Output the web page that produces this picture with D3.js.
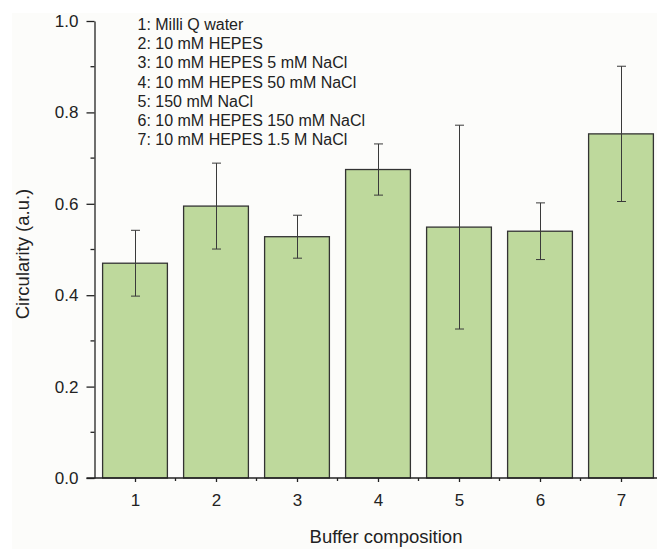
<!DOCTYPE html>
<html>
<head>
<meta charset="utf-8">
<script src="https://cdn.jsdelivr.net/npm/d3@7"></script>
<style>
  body { margin: 0; background: #fff; }
  svg text { font-family: "Liberation Sans", Arial, sans-serif; fill: #222; }
</style>
</head>
<body>
<div id="chart"></div>
<script>
const categories = [1, 2, 3, 4, 5, 6, 7];
const circularity = [0.470, 0.595, 0.528, 0.675, 0.549, 0.540, 0.753];
const errors = [0.072, 0.094, 0.047, 0.056, 0.223, 0.062, 0.148];
const yTicks = [0.0, 0.2, 0.4, 0.6, 0.8, 1.0];
const legendLines = [
  "1: Milli Q water",
  "2: 10 mM HEPES",
  "3: 10 mM HEPES 5 mM NaCl",
  "4: 10 mM HEPES 50 mM NaCl",
  "5: 150 mM NaCl",
  "6: 10 mM HEPES 150 mM NaCl",
  "7: 10 mM HEPES 1.5 M NaCl"
];

const width = 657, height = 549;
const margin = ({ top: 21, right: -4.5, bottom: 71, left: 94.5 });

const svg = d3.select("#chart")
  .append("svg")
  .attr("width", width)
  .attr("height", height);

// off-white paper of the original figure
svg.append("rect")
  .attr("x", 12).attr("y", 13)
  .attr("width", width - 12).attr("height", height - 13)
  .attr("fill", "#fcfcfa");

const x = d3.scaleLinear()
  .domain([0.5, 7.5])
  .range([margin.left, width - margin.right]);

const y = d3.scaleLinear()
  .domain([0, 1])
  .range([height - margin.bottom, margin.top]);

const barW = (x(2) - x(1)) * 0.8;

// bars
svg.append("g")
  .selectAll("rect")
  .data(categories)
  .join("rect")
  .attr("x", (d) => x(d) - barW / 2)
  .attr("y", (d, i) => y(circularity[i]))
  .attr("width", barW)
  .attr("height", (d, i) => y(0) - y(circularity[i]))
  .attr("fill", "#bed99c")
  .attr("stroke", "#333")
  .attr("stroke-width", 1.3);

// error bars
const eb = svg.append("g")
  .attr("stroke", "#3a3a3a")
  .attr("stroke-width", 1);

eb.selectAll("line.v")
  .data(categories)
  .join("line")
  .attr("class", "v")
  .attr("x1", (d) => Math.round(x(d)) + 0.5)
  .attr("x2", (d) => Math.round(x(d)) + 0.5)
  .attr("y1", (d, i) => y(circularity[i] + errors[i]))
  .attr("y2", (d, i) => y(circularity[i] - errors[i]));

for (const sign of [1, -1]) {
  eb.append("g")
    .selectAll("line")
    .data(categories)
    .join("line")
    .attr("x1", (d) => Math.round(x(d)) + 0.5 - 4.5)
    .attr("x2", (d) => Math.round(x(d)) + 0.5 + 4.5)
    .attr("y1", (d, i) => y(circularity[i] + sign * errors[i]))
    .attr("y2", (d, i) => y(circularity[i] + sign * errors[i]));
}

// x axis
const xAxis = svg.append("g")
  .attr("transform", `translate(0,${y(0)})`)
  .call(d3.axisBottom(x).tickValues(categories).tickFormat(d3.format("d")).tickSize(4).tickSizeOuter(0).tickPadding(12));
xAxis.select(".domain").remove();
xAxis.append("line")
  .attr("x1", margin.left - 8).attr("x2", width)
  .attr("stroke", "#222").attr("stroke-width", 1.3);
xAxis.selectAll(".tick line").attr("stroke", "#222").attr("stroke-width", 1.3);
xAxis.selectAll(".tick text").style("font-size", "17px").attr("fill", "#222");

svg.append("g")
  .attr("transform", `translate(0,${y(0)})`)
  .selectAll("line")
  .data(categories.map((d) => d + 0.5))
  .join("line")
  .attr("x1", (d) => x(d)).attr("x2", (d) => x(d))
  .attr("y1", 0).attr("y2", 3)
  .attr("stroke", "#222").attr("stroke-width", 1.3);

// y axis
const yAxis = svg.append("g")
  .attr("transform", `translate(${margin.left},0)`)
  .call(d3.axisLeft(y).tickValues(yTicks).tickFormat(d3.format(".1f")).tickSize(8).tickSizeOuter(0).tickPadding(8));
yAxis.select(".domain").attr("stroke", "#222").attr("stroke-width", 1.3);
yAxis.selectAll(".tick line").attr("stroke", "#222").attr("stroke-width", 1.3);
yAxis.selectAll(".tick text").style("font-size", "17px").attr("fill", "#222");

svg.append("g")
  .attr("transform", `translate(${margin.left},0)`)
  .selectAll("line")
  .data([0.1, 0.3, 0.5, 0.7, 0.9])
  .join("line")
  .attr("x1", -4).attr("x2", 0)
  .attr("y1", (d) => y(d)).attr("y2", (d) => y(d))
  .attr("stroke", "#222").attr("stroke-width", 1.3);

// axis titles
svg.append("text")
  .attr("x", 386)
  .attr("y", 543)
  .attr("text-anchor", "middle")
  .style("font-size", "18.5px")
  .text("Buffer composition");

svg.append("text")
  .attr("transform", `translate(29,${254}) rotate(-90)`)
  .attr("text-anchor", "middle")
  .style("font-size", "18.5px")
  .text("Circularity (a.u.)");

// legend text
svg.append("g")
  .selectAll("text")
  .data(legendLines)
  .join("text")
  .attr("x", 137.5)
  .attr("y", (d, i) => 30 + i * 19.2)
  .style("font-size", "16px")
  .text((d) => d);
</script>
</body>
</html>
